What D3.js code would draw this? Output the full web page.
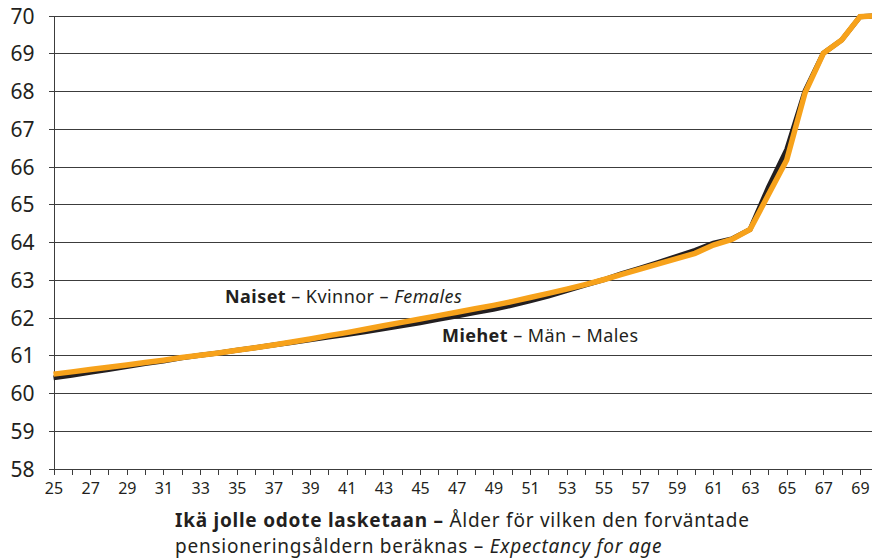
<!DOCTYPE html>
<html>
<head>
<meta charset="utf-8">
<script src="https://cdn.jsdelivr.net/npm/d3@7"></script>
<style>
  body { margin: 0; background: #fff; }
  svg { display: block; font-family: "Noto Sans", "Open Sans", sans-serif; }
  .grid line { stroke: #3c3c3c; stroke-width: 1; shape-rendering: crispEdges; }
  .axis path, .axis line { stroke: #3c3c3c; shape-rendering: crispEdges; }
  .axis text { fill: #231f20; }
</style>
</head>
<body>
<div id="chart"></div>
<script>
// ages on the x axis
var ages = d3.range(25, 71);
var xTickLabels = d3.range(25, 70, 2);
var yTicks = [58, 59, 60, 61, 62, 63, 64, 65, 66, 67, 68, 69, 70];

// Naiset – Kvinnor – Females
var females = [60.50, 60.56, 60.62, 60.68, 60.74, 60.81, 60.87, 60.94, 61.00, 61.06,
  61.13, 61.20, 61.27, 61.35, 61.43, 61.52, 61.60, 61.69, 61.78, 61.87,
  61.96, 62.05, 62.14, 62.23, 62.32, 62.42, 62.53, 62.64, 62.75, 62.87,
  63.00, 63.14, 63.28, 63.42, 63.56, 63.70, 63.92, 64.07, 64.33, 65.25,
  66.17, 67.95, 69.00, 69.35, 69.97, 70.00];

// Miehet – Män – Males
var males = [60.40, 60.47, 60.55, 60.62, 60.70, 60.78, 60.85, 60.93, 61.00, 61.06,
  61.13, 61.20, 61.27, 61.34, 61.41, 61.48, 61.55, 61.62, 61.70, 61.78,
  61.86, 61.95, 62.04, 62.13, 62.22, 62.32, 62.44, 62.57, 62.71, 62.86,
  63.00, 63.16, 63.31, 63.46, 63.62, 63.78, 63.97, 64.08, 64.33, 65.45,
  66.45, 68.00, 69.00, 69.35, 69.97, 70.00];

var size = { width: 872, height: 558 };
var margin = { left: 53.5, top: 15.5, bottom: 468.5 };
var step = 18.33;

var svg = d3.select("#chart")
  .append("svg")
  .attr("width", size.width)
  .attr("height", size.height);

var x = d3.scaleLinear()
  .domain([25, 70])
  .range([margin.left, margin.left + 45 * step]);

var y = d3.scaleLinear()
  .domain([58, 70])
  .range([margin.bottom, margin.top]);

// gridlines
svg.append("g")
  .attr("class", "grid")
  .selectAll("line")
  .data(yTicks)
  .enter().append("line")
  .attr("x1", margin.left)
  .attr("x2", size.width)
  .attr("y1", function(d) { return Math.round(y(d)) + 0.5; })
  .attr("y2", function(d) { return Math.round(y(d)) + 0.5; });

// y axis
var yAxis = svg.append("g")
  .attr("class", "axis")
  .attr("transform", "translate(" + margin.left + ",0)")
  .call(d3.axisLeft(y).tickValues(yTicks).tickSize(5).tickPadding(14).tickSizeOuter(0))
  .attr("font-family", null)
  .attr("font-size", 21);
yAxis.selectAll("text").attr("dy", "0.36em");

// x axis
var xAxis = svg.append("g")
  .attr("class", "axis")
  .attr("transform", "translate(0," + (Math.round(y(58)) + 0.5) + ")")
  .call(d3.axisBottom(x).tickValues(ages).tickSize(5).tickPadding(8).tickSizeOuter(0)
    .tickFormat(function(d) { return xTickLabels.indexOf(d) >= 0 ? d : ""; }))
  .attr("font-family", null)
  .attr("font-size", 16);
xAxis.select(".domain").remove();

// lines
var line = d3.line()
  .x(function(d, i) { return x(ages[i]); })
  .y(function(d) { return y(d); });

svg.append("path")
  .datum(males)
  .attr("fill", "none")
  .attr("stroke", "#231f20")
  .attr("stroke-width", 5)
  .attr("d", line);

svg.append("path")
  .datum(females)
  .attr("fill", "none")
  .attr("stroke", "#f7a21b")
  .attr("stroke-width", 5.5)
  .attr("d", line);

// series labels
var fLabel = svg.append("text")
  .attr("x", 225)
  .attr("y", 303)
  .style("font-size", "18px")
  .style("letter-spacing", "0.45px")
  .attr("fill", "#231f20");
fLabel.append("tspan").style("font-weight", "bold").text("Naiset");
fLabel.append("tspan").text(" – Kvinnor – ");
fLabel.append("tspan").style("font-style", "italic").text("Females");

var mLabel = svg.append("text")
  .attr("x", 442)
  .attr("y", 342)
  .style("font-size", "18px")
  .style("letter-spacing", "0.45px")
  .attr("fill", "#231f20");
mLabel.append("tspan").style("font-weight", "bold").text("Miehet");
mLabel.append("tspan").text(" – Män – Males");

// x axis title, two lines in one text
var title = svg.append("text")
  .attr("x", 175)
  .attr("y", 527)
  .style("font-size", "19px")
  .style("letter-spacing", "0.75px")
  .attr("fill", "#231f20");
title.append("tspan").style("font-weight", "bold").text("Ikä jolle odote lasketaan – ");
title.append("tspan").text("Ålder för vilken den forväntade");
title.append("tspan").attr("x", 175).attr("dy", 26.2).text("pensioneringsåldern beräknas – ");
title.append("tspan").style("font-style", "italic").text("Expectancy for age");
</script>
</body>
</html>
